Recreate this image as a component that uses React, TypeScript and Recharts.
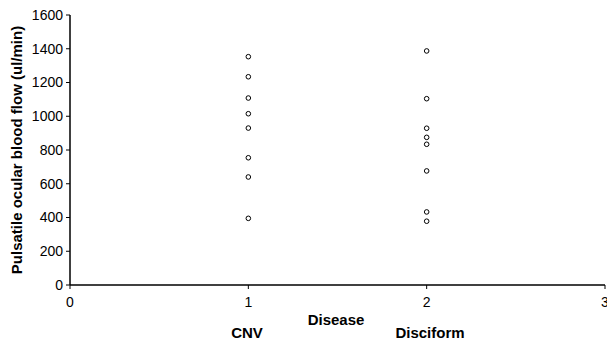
import React from 'react';
import { ScatterChart, Scatter, XAxis, YAxis } from 'recharts';

// Pulsatile ocular blood flow (ul/min) by disease group
const cnvFlow = [1353, 1234, 1108, 1015, 930, 754, 640, 395];
const disciformFlow = [1387, 1104, 929, 875, 834, 676, 433, 378];
const xTicks = [0, 1, 2, 3];
const yTicks = [0, 200, 400, 600, 800, 1000, 1200, 1400, 1600];

const cnvData = cnvFlow.map(v => ({ x: 1, y: v }));
const disciformData = disciformFlow.map(v => ({ x: 2, y: v }));

const font = 'Liberation Sans, Arial, sans-serif';

const OpenCircle = (props: any) => {
  const { cx, cy } = props;
  return <circle cx={cx} cy={cy} r={2.3} fill="#fff" stroke="#000" strokeWidth={1} />;
};

const XLabels = () => (
  <g fontFamily={font} fontWeight="bold" fontSize={15} fill="#000">
    <text x={336} y={325} textAnchor="middle">Disease</text>
    <text x={247} y={338} textAnchor="middle">CNV</text>
    <text x={430} y={338} textAnchor="middle">Disciform</text>
  </g>
);

const App = () => {
  return (
    <div style={{ position: 'absolute', left: 0, top: 0, width: 607, height: 342, background: '#fff' }}>
      <ScatterChart width={607} height={342} margin={{ top: 15, right: 2, left: 0, bottom: 0 }}>
        <XAxis
          type="number"
          dataKey="x"
          domain={[0, 3]}
          ticks={xTicks}
          interval={0}
          height={57}
          tickSize={4}
          tickMargin={8}
          axisLine={{ stroke: '#000', strokeWidth: 1.5 }}
          tickLine={{ stroke: '#000' }}
          tick={{ fill: '#000', fontSize: 14, fontFamily: font }}
          allowDataOverflow
          label={{ content: () => <XLabels /> }}
        />
        <YAxis
          type="number"
          dataKey="y"
          domain={[0, 1600]}
          ticks={yTicks}
          interval={0}
          width={70}
          tickSize={4}
          tickMargin={3}
          axisLine={{ stroke: '#000', strokeWidth: 1.5 }}
          tickLine={{ stroke: '#000' }}
          tick={{ fill: '#000', fontSize: 14, fontFamily: font }}
          label={{
            value: 'Pulsatile ocular blood flow (ul/min)',
            angle: -90,
            position: 'insideLeft',
            offset: 17,
            style: { textAnchor: 'middle', fontWeight: 'bold', fontSize: 15, fontFamily: font, fill: '#000' }
          }}
        />
        <Scatter data={cnvData} shape={<OpenCircle />} isAnimationActive={false} />
        <Scatter data={disciformData} shape={<OpenCircle />} isAnimationActive={false} />
      </ScatterChart>
    </div>
  );
};

export default App;
